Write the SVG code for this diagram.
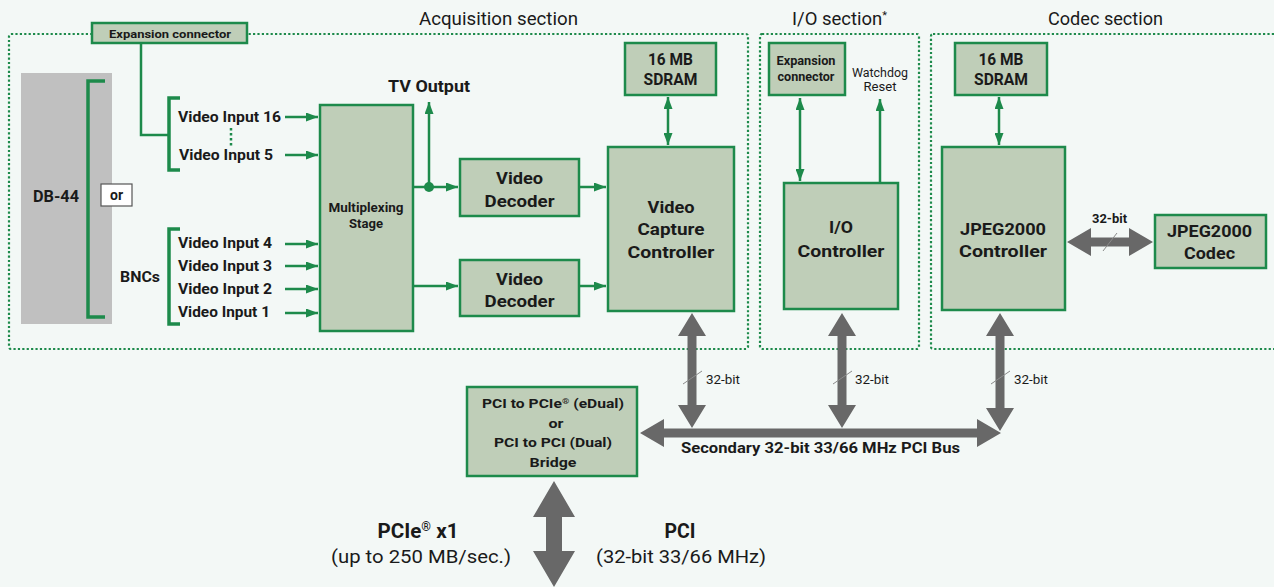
<svg xmlns="http://www.w3.org/2000/svg" width="1274" height="587" viewBox="0 0 1274 587">
<defs>
<marker id="ga" viewBox="0 0 12 9" markerWidth="12" markerHeight="9" refX="12" refY="4.5" markerUnits="userSpaceOnUse" orient="auto-start-reverse">
<path d="M0,0 L12,4.5 L0,9 z" fill="#1d8a4b"/>
</marker>
</defs>
<style>
.bg{fill:#f3f8f6}
.sec{fill:none;stroke:#1d8a4b;stroke-width:2.2;stroke-dasharray:2.2 2.2}
.box{fill:#bfceb8;stroke:#1d8a4b;stroke-width:2.5}
.gl{fill:none;stroke:#1d8a4b;stroke-width:2.5}
.ar{fill:none;stroke:#1d8a4b;stroke-width:2.5;marker-end:url(#ga)}
.ar2{fill:none;stroke:#1d8a4b;stroke-width:2.5;marker-end:url(#ga);marker-start:url(#ga)}
.br{fill:none;stroke:#1d8a4b;stroke-width:3.5}
.gray{fill:#686868}
.sl{stroke:#8a8a8a;stroke-width:1}
text{font-family:Roboto,"DejaVu Sans",sans-serif;fill:#1a1a1a}
.b{font-weight:bold}
.t{font-size:18px}
.m{text-anchor:middle}
.sup{font-size:60%;baseline-shift:super}
</style>
<rect class="bg" x="0" y="0" width="1274" height="587"/>

<g id="sections">
<rect class="sec" x="9" y="34" width="739" height="315" rx="2"/>
<rect class="sec" x="760" y="34" width="159" height="315" rx="2"/>
<rect class="sec" x="931" y="34" width="360" height="315" rx="2"/>
<text class="t m" x="498.5" y="25" textLength="159" lengthAdjust="spacingAndGlyphs">Acquisition section</text>
<text class="t m" x="839.5" y="25" textLength="95" lengthAdjust="spacingAndGlyphs">I/O section<tspan class="sup">*</tspan></text>
<text class="t m" x="1105.5" y="25" textLength="115" lengthAdjust="spacingAndGlyphs">Codec section</text>
</g>

<g id="db44">
<rect x="21" y="73" width="91" height="251" fill="#c0c0c0"/>
<path class="br" d="M105,81 H88 V317 H105"/>
<text class="b m" x="56" y="202" font-size="16" textLength="46" lengthAdjust="spacingAndGlyphs">DB-44</text>
</g>
<g id="or">
<rect x="101" y="184" width="31" height="22" fill="#ffffff" stroke="#555" stroke-width="1.2"/>
<text class="b m" x="116.5" y="200" font-size="14">or</text>
</g>
<g id="bncs">
<text class="b m" x="140" y="282" font-size="15" textLength="40" lengthAdjust="spacingAndGlyphs">BNCs</text>
</g>

<g id="expansion-top">
<rect class="box" x="92" y="23" width="155" height="20"/>
<text class="b m" x="170" y="38" font-size="11" textLength="122" lengthAdjust="spacingAndGlyphs">Expansion connector</text>
</g>

<g id="inputs">
<path class="br" d="M180,98 H169 V170 H180"/>
<path class="br" d="M180,229 H169 V324 H180"/>
<line x1="231" y1="128" x2="231" y2="146" stroke="#1d8a4b" stroke-width="2.5" stroke-dasharray="2.5 2.5"/>
<text class="b" x="178" y="122" font-size="14" textLength="103" lengthAdjust="spacingAndGlyphs">Video Input 16</text>
<text class="b" x="179" y="160" font-size="14" textLength="94" lengthAdjust="spacingAndGlyphs">Video Input 5</text>
<text class="b" x="178" y="248" font-size="14" textLength="94" lengthAdjust="spacingAndGlyphs">Video Input 4</text>
<text class="b" x="178" y="271" font-size="14" textLength="94" lengthAdjust="spacingAndGlyphs">Video Input 3</text>
<text class="b" x="178" y="294" font-size="14" textLength="94" lengthAdjust="spacingAndGlyphs">Video Input 2</text>
<text class="b" x="178" y="317" font-size="14" textLength="92" lengthAdjust="spacingAndGlyphs">Video Input 1</text>
</g>

<g id="mux">
<rect class="box" x="320" y="105" width="93" height="226"/>
<text class="b m" x="366" y="212" font-size="12" textLength="75" lengthAdjust="spacingAndGlyphs">Multiplexing</text>
<text class="b m" x="366" y="228" font-size="12" textLength="34" lengthAdjust="spacingAndGlyphs">Stage</text>
</g>

<g id="tvout">
<text class="b" x="388" y="92" font-size="17" textLength="82" lengthAdjust="spacingAndGlyphs">TV Output</text>
</g>

<g id="decoder1">
<rect class="box" x="460" y="159" width="119" height="57"/>
<text class="b m" x="519.5" y="184" font-size="17" textLength="47" lengthAdjust="spacingAndGlyphs">Video</text>
<text class="b m" x="519.5" y="207" font-size="17" textLength="70" lengthAdjust="spacingAndGlyphs">Decoder</text>
</g>
<g id="decoder2">
<rect class="box" x="460" y="260" width="119" height="56"/>
<text class="b m" x="519.5" y="285" font-size="17" textLength="47" lengthAdjust="spacingAndGlyphs">Video</text>
<text class="b m" x="519.5" y="307" font-size="17" textLength="70" lengthAdjust="spacingAndGlyphs">Decoder</text>
</g>

<g id="vcc">
<rect class="box" x="608" y="147" width="126" height="164"/>
<text class="b m" x="671" y="213" font-size="17" textLength="47" lengthAdjust="spacingAndGlyphs">Video</text>
<text class="b m" x="671" y="235" font-size="17" textLength="67" lengthAdjust="spacingAndGlyphs">Capture</text>
<text class="b m" x="671" y="258" font-size="17" textLength="87" lengthAdjust="spacingAndGlyphs">Controller</text>
</g>

<g id="sdram1">
<rect class="box" x="625" y="43" width="91" height="52"/>
<text class="b m" x="670.5" y="65" font-size="16" textLength="45" lengthAdjust="spacingAndGlyphs">16 MB</text>
<text class="b m" x="670.5" y="85" font-size="16" textLength="54" lengthAdjust="spacingAndGlyphs">SDRAM</text>
</g>

<g id="io-expansion">
<rect class="box" x="769" y="43" width="76" height="52"/>
<text class="b m" x="806" y="65" font-size="12" textLength="59" lengthAdjust="spacingAndGlyphs">Expansion</text>
<text class="b m" x="806" y="81" font-size="12" textLength="57" lengthAdjust="spacingAndGlyphs">connector</text>
</g>
<g id="watchdog">
<text class="m" x="880" y="77" font-size="12" textLength="56" lengthAdjust="spacingAndGlyphs">Watchdog</text>
<text class="m" x="880" y="91" font-size="12" textLength="33" lengthAdjust="spacingAndGlyphs">Reset</text>
</g>
<g id="ioctrl">
<rect class="box" x="784" y="183" width="114" height="126"/>
<text class="b m" x="841" y="233" font-size="17" textLength="24" lengthAdjust="spacingAndGlyphs">I/O</text>
<text class="b m" x="841" y="257" font-size="17" textLength="87" lengthAdjust="spacingAndGlyphs">Controller</text>
</g>

<g id="sdram2">
<rect class="box" x="955" y="43" width="92" height="52"/>
<text class="b m" x="1001" y="65" font-size="16" textLength="45" lengthAdjust="spacingAndGlyphs">16 MB</text>
<text class="b m" x="1001" y="85" font-size="16" textLength="54" lengthAdjust="spacingAndGlyphs">SDRAM</text>
</g>
<g id="jpegctrl">
<rect class="box" x="942" y="147" width="123" height="163"/>
<text class="b m" x="1003" y="235" font-size="17" textLength="86" lengthAdjust="spacingAndGlyphs">JPEG2000</text>
<text class="b m" x="1003" y="257" font-size="17" textLength="88" lengthAdjust="spacingAndGlyphs">Controller</text>
</g>
<g id="jpegcodec">
<rect class="box" x="1155" y="215" width="111" height="53"/>
<text class="b m" x="1209.5" y="237" font-size="17" textLength="85" lengthAdjust="spacingAndGlyphs">JPEG2000</text>
<text class="b m" x="1209.5" y="259" font-size="17" textLength="51" lengthAdjust="spacingAndGlyphs">Codec</text>
</g>

<g id="bridge">
<rect class="box" x="467" y="387" width="170" height="89"/>
<text class="b m" x="553" y="408" font-size="13" textLength="142" lengthAdjust="spacingAndGlyphs">PCI to PCIe<tspan class="sup">®</tspan> (eDual)</text>
<text class="b m" x="556" y="428" font-size="13" textLength="15" lengthAdjust="spacingAndGlyphs">or</text>
<text class="b m" x="553" y="447" font-size="13" textLength="118" lengthAdjust="spacingAndGlyphs">PCI to PCI (Dual)</text>
<text class="b m" x="553" y="467" font-size="13" textLength="47" lengthAdjust="spacingAndGlyphs">Bridge</text>
</g>

<g id="host-labels">
<text class="b m" x="418" y="538" font-size="20" textLength="81" lengthAdjust="spacingAndGlyphs">PCIe<tspan class="sup">®</tspan> x1</text>
<text class="m" x="421" y="563" font-size="18" textLength="180" lengthAdjust="spacingAndGlyphs">(up to 250 MB/sec.)</text>
<text class="b m" x="680" y="538" font-size="20" textLength="31" lengthAdjust="spacingAndGlyphs">PCI</text>
<text class="m" x="681" y="563" font-size="18" textLength="170" lengthAdjust="spacingAndGlyphs">(32-bit 33/66 MHz)</text>
</g>

<g id="connectors">
<path class="gl" d="M141,43 V135 H169"/>
<line class="ar" x1="285" y1="117" x2="318" y2="117"/>
<line class="ar" x1="285" y1="155" x2="318" y2="155"/>
<line class="ar" x1="285" y1="244" x2="318" y2="244"/>
<line class="ar" x1="285" y1="266" x2="318" y2="266"/>
<line class="ar" x1="285" y1="289" x2="318" y2="289"/>
<line class="ar" x1="285" y1="313" x2="318" y2="313"/>
<line class="ar" x1="413" y1="187" x2="458" y2="187"/>
<line class="ar" x1="429" y1="187" x2="429" y2="102"/>
<circle cx="429" cy="187" r="5" fill="#1d8a4b"/>
<line class="ar" x1="413" y1="286" x2="458" y2="286"/>
<line class="ar" x1="580" y1="187" x2="606" y2="187"/>
<line class="ar" x1="580" y1="286" x2="606" y2="286"/>
<line class="ar2" x1="668" y1="97" x2="668" y2="145"/>
<line class="ar2" x1="800" y1="98" x2="800" y2="181"/>
<line class="ar" x1="880" y1="183" x2="880" y2="99"/>
<line class="ar2" x1="999" y1="97" x2="999" y2="145"/>

<polygon class="gray" points="1067,242 1091,228 1091,237.5 1129,237.5 1129,228 1153,242 1129,256 1129,246.5 1091,246.5 1091,256"/>
<line class="sl" x1="1103" y1="251" x2="1117" y2="233"/>
<text class="b m" x="1109.5" y="223" font-size="12" font-family="'Liberation Sans',Arial,sans-serif" textLength="35" lengthAdjust="spacingAndGlyphs">32-bit</text>

<polygon class="gray" points="692,313 706,336 696.5,336 696.5,405 706,405 692,428 678,405 687.5,405 687.5,336 678,336"/>
<polygon class="gray" points="842,313 856,336 846.5,336 846.5,405 856,405 842,428 828,405 837.5,405 837.5,336 828,336"/>
<polygon class="gray" points="1000,313 1014,336 1004.5,336 1004.5,408 1014,408 1000,431 986,408 995.5,408 995.5,336 986,336"/>
<polygon class="gray" points="640,433 664,419 664,428.5 977,428.5 977,419 1001,433 977,447 977,437.5 664,437.5 664,447"/>
<line class="sl" x1="683" y1="384" x2="702" y2="371"/>
<line class="sl" x1="833" y1="384" x2="852" y2="371"/>
<line class="sl" x1="991" y1="384" x2="1010" y2="371"/>
<text x="706" y="384" font-size="12" textLength="34" lengthAdjust="spacingAndGlyphs">32-bit</text>
<text x="855" y="384" font-size="12" textLength="34" lengthAdjust="spacingAndGlyphs">32-bit</text>
<text x="1014" y="384" font-size="12" textLength="34" lengthAdjust="spacingAndGlyphs">32-bit</text>
<text class="b m" x="820.5" y="453" font-size="15" textLength="279" lengthAdjust="spacingAndGlyphs">Secondary 32-bit 33/66 MHz PCI Bus</text>

<polygon class="gray" points="554,481 575,517 562,517 562,551 575,551 554,587 533,551 546,551 546,517 533,517"/>
</g>
</svg>
